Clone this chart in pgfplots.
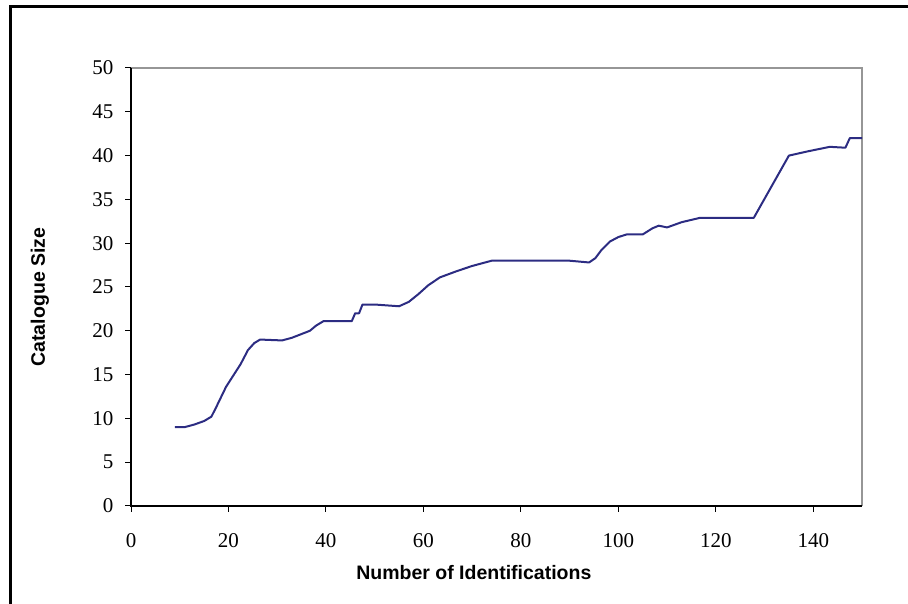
\documentclass[border=0pt]{standalone}
\usepackage{fontspec}
\setmainfont{Liberation Serif}
\setsansfont{Liberation Sans}
\usepackage{pgfplots}
\pgfplotsset{compat=1.18}
\definecolor{lineblue}{RGB}{44,44,130}
\definecolor{framegray}{RGB}{150,150,150}

\begin{document}
\begin{tikzpicture}[x=1pt,y=1pt]
\useasboundingbox (0,0) rectangle (908,604);
% outer chart frame
\draw[line width=3pt] (10,-10) -- (10,597) -- (920,597);
\begin{axis}[
  at={(131pt,98pt)}, anchor=south west,
  scale only axis, width=731pt, height=438pt,
  xmin=0, xmax=150, ymin=0, ymax=50,
  xtick={0,20,...,140}, ytick={0,5,...,50},
  xtick pos=bottom, ytick pos=left,
  tick align=outside, major tick length=6pt,
  tick style={black, line width=1pt},
  axis line style={draw=none},
  /pgf/number format/assume math mode=true,
  tick label style={font=\fontsize{21}{24}\selectfont},
  xticklabel style={yshift=-18pt},
  yticklabel style={xshift=-8pt},
  xlabel={Number of Identifications},
  ylabel={Catalogue Size},
  label style={font=\sffamily\bfseries\fontsize{19.5}{22}\selectfont},
  xlabel style={at={(axis description cs:0.469,-0.153)}, anchor=center},
  ylabel style={at={(axis description cs:-0.1245,0.477)}, anchor=center},
  clip=false,
]
\draw[framegray, line width=2pt] (rel axis cs:0,1) -- (rel axis cs:1,1) -- (rel axis cs:1,0);
\draw[black, line width=1.5pt] (rel axis cs:0,1) -- (rel axis cs:0,0) -- (rel axis cs:1,0);
\addplot[lineblue, line width=2pt, line join=round] coordinates {
(9,9.0) (11,9.0) (13,9.3) (15,9.7) (16.5,10.2) (17.5,11.3) (19.5,13.6)
(22.5,16.2) (24,17.8) (25.3,18.6) (26.5,19.0) (31,18.9) (33,19.2)
(36.7,20.0) (38,20.6) (39.5,21.1) (45.3,21.1) (46,22.0) (46.8,22.0)
(47.5,23.0) (50,23.0) (55,22.8) (57,23.3) (59,24.2) (61,25.2) (63.4,26.1)
(66.8,26.8) (70,27.4) (74,28.0) (90,28.0) (94,27.8) (95.3,28.3)
(96.5,29.2) (98.3,30.2) (100,30.7) (101.7,31.0) (105,31.0) (107,31.7)
(108.3,32.0) (110,31.8) (113,32.4) (116.8,32.9) (127.8,32.9) (135,40.0)
(139,40.5) (143.4,41.0) (146.6,40.9) (147.5,42.0) (150,42.0)
};
\end{axis}
\end{tikzpicture}
\end{document}
